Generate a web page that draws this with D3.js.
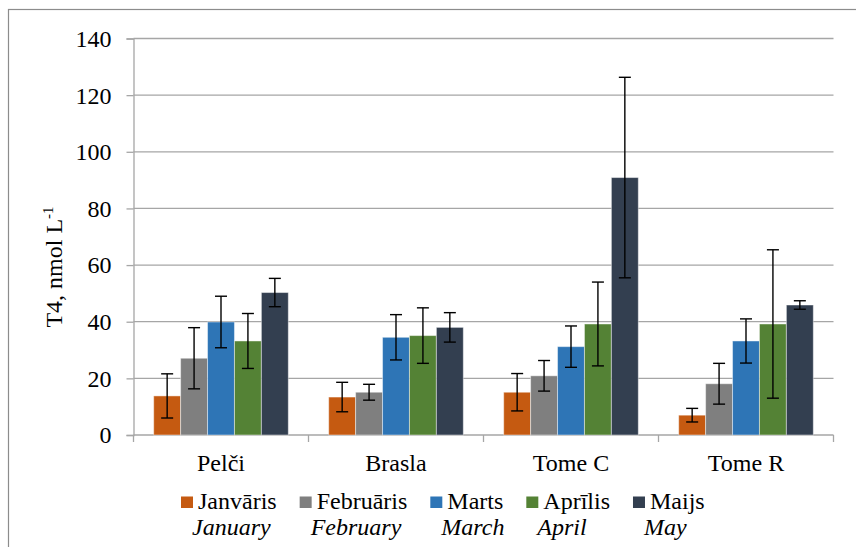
<!DOCTYPE html>
<html>
<head>
<meta charset="utf-8">
<script src="https://cdn.jsdelivr.net/npm/d3@7"></script>
<style>
  html, body { margin: 0; padding: 0; background: #fff; }
  svg { display: block; font-family: "Liberation Serif", "Times New Roman", serif; }
</style>
</head>
<body>
<svg id="chart" width="856" height="547"></svg>
<script>
// Sites on the x axis
const sites = ["Pelči", "Brasla", "Tome C", "Tome R"];
// Months (legend: Latvian name, English name)
const monthsLv = ["Janvāris", "Februāris", "Marts", "Aprīlis", "Maijs"];
const monthsEn = ["January", "February", "March", "April", "May"];
const monthColors = ["#C55A11", "#7F7F7F", "#2E75B6", "#548235", "#333F50"];

// Mean T4 per month, one array per site (nmol L-1)
const meanPelci  = [13.8, 27.1, 39.9, 33.2, 50.3];
const meanBrasla = [13.4, 15.1, 34.5, 35.1, 38.0];
const meanTomeC  = [15.1, 20.9, 31.2, 39.2, 90.9];
const meanTomeR  = [7.0, 18.1, 33.2, 39.2, 45.9];

// Error (± half-range) per month
const errPelci  = [7.8, 10.8, 9.1, 9.7, 5.0];
const errBrasla = [5.2, 2.8, 8.0, 9.8, 5.2];
const errTomeC  = [6.6, 5.4, 7.3, 14.8, 35.4];
const errTomeR  = [2.4, 7.2, 7.8, 26.2, 1.5];

const yTicks = [0, 20, 40, 60, 80, 100, 120, 140];

const means = [meanPelci, meanBrasla, meanTomeC, meanTomeR];
const errs = [errPelci, errBrasla, errTomeC, errTomeR];

const rows = [];
sites.forEach((s, i) => {
  monthsLv.forEach((m, j) => {
    rows.push({ site: s, month: m, idx: j, value: means[i][j], err: errs[i][j] });
  });
});

const FONT = "'Liberation Serif', 'Times New Roman', serif";
const FS = 24;

const svg = d3.select("#chart");

// Outer chart frame
svg.append("rect")
  .attr("x", 8.5).attr("y", 9.5)
  .attr("width", 870).attr("height", 560)
  .attr("fill", "none")
  .attr("stroke", "#8c8c8c")
  .attr("stroke-width", 1.2);

const plotLeft = 133.5, plotRight = 833.5, plotTop = 38.5, plotBottom = 435;

const y = d3.scaleLinear().domain([0, 140]).range([plotBottom, plotTop]);
const x0 = d3.scaleBand().domain(sites).range([plotLeft, plotRight]).paddingInner(0).paddingOuter(0);
// gap of 1.5 bar widths between groups
const barW = x0.bandwidth() / (monthsLv.length + 1.5);
const x1 = d3.scaleBand().domain(monthsLv)
  .range([barW * 0.75, barW * 0.75 + barW * monthsLv.length]);

// Gridlines
svg.append("g")
  .selectAll("line")
  .data(yTicks.filter(d => d > 0))
  .join("line")
  .attr("x1", plotLeft).attr("x2", plotRight)
  .attr("y1", d => y(d)).attr("y2", d => y(d))
  .attr("stroke", "#a6a6a6")
  .attr("stroke-width", 1.3);

// Y axis
const yAxis = svg.append("g")
  .attr("transform", `translate(${plotLeft},0)`)
  .call(d3.axisLeft(y).tickValues(yTicks).tickSize(7).tickPadding(15));
yAxis.attr("font-family", FONT).attr("font-size", FS);
yAxis.select(".domain").attr("stroke", "#a6a6a6").attr("stroke-width", 1.3);
yAxis.selectAll(".tick line").attr("stroke", "#a6a6a6").attr("stroke-width", 1.3);
yAxis.selectAll(".tick text").attr("fill", "#000").attr("dy", "0.33em");

// X axis with ticks between categories
const xAxisG = svg.append("g").attr("font-family", FONT);
xAxisG.append("line")
  .attr("x1", plotLeft).attr("x2", plotRight)
  .attr("y1", plotBottom).attr("y2", plotBottom)
  .attr("stroke", "#a6a6a6").attr("stroke-width", 1.3);
const boundaries = sites.map(s => x0(s)).concat([x0(sites[sites.length - 1]) + x0.bandwidth()]);
xAxisG.selectAll("line.tk")
  .data(boundaries)
  .join("line")
  .attr("class", "tk")
  .attr("x1", d => d).attr("x2", d => d)
  .attr("y1", plotBottom).attr("y2", plotBottom + 7)
  .attr("stroke", "#a6a6a6").attr("stroke-width", 1.3);
xAxisG.selectAll("text")
  .data(sites)
  .join("text")
  .attr("x", d => x0(d) + x0.bandwidth() / 2)
  .attr("y", 471)
  .attr("text-anchor", "middle")
  .attr("font-size", FS)
  .attr("fill", "#000")
  .text(d => d);

// Bars
const color = d3.scaleOrdinal().domain(monthsLv).range(monthColors);
const barsG = svg.append("g");
barsG.selectAll("rect")
  .data(rows)
  .join("rect")
  .attr("x", d => x0(d.site) + x1(d.month))
  .attr("y", d => y(d.value))
  .attr("width", x1.bandwidth())
  .attr("height", d => y(0) - y(d.value))
  .attr("fill", d => color(d.month))
  .attr("stroke", "rgba(255,255,255,0.45)")
  .attr("stroke-width", 1);

// Error bars
const capW = 12;
const errG = svg.append("g").attr("stroke", "#000").attr("stroke-width", 1.4);
rows.forEach(d => {
  const cx = x0(d.site) + x1(d.month) + x1.bandwidth() / 2;
  const yt = y(d.value + d.err), yb = y(d.value - d.err);
  errG.append("line").attr("x1", cx).attr("x2", cx).attr("y1", yt).attr("y2", yb);
  errG.append("line").attr("x1", cx - capW / 2).attr("x2", cx + capW / 2).attr("y1", yt).attr("y2", yt);
  errG.append("line").attr("x1", cx - capW / 2).attr("x2", cx + capW / 2).attr("y1", yb).attr("y2", yb);
});

// Y axis title
const yTitle = svg.append("text")
  .attr("transform", "translate(62,267) rotate(-90)")
  .attr("text-anchor", "middle")
  .attr("font-family", FONT)
  .attr("font-size", FS)
  .attr("fill", "#000");
yTitle.append("tspan").text("T4, nmol L");
yTitle.append("tspan").attr("dy", -9).attr("font-size", 15).text("-1");

// Legend: two-line entries laid out left to right
const legend = svg.append("g").attr("font-family", FONT);
let lx = 181;
monthsLv.forEach((m, j) => {
  const g = legend.append("g");
  g.append("rect")
    .attr("x", lx).attr("y", 496.5)
    .attr("width", 12).attr("height", 11.5)
    .attr("fill", monthColors[j]);
  const t = g.append("text")
    .attr("x", lx + 17).attr("y", 509)
    .attr("font-size", FS).attr("fill", "#000")
    .text(m);
  const w = t.node().getComputedTextLength();
  g.append("text")
    .attr("x", lx + 11).attr("y", 535)
    .attr("font-size", FS).attr("font-style", "italic").attr("fill", "#000")
    .text(monthsEn[j]);
  lx += 17 + w + 23;
});
</script>
</body>
</html>
